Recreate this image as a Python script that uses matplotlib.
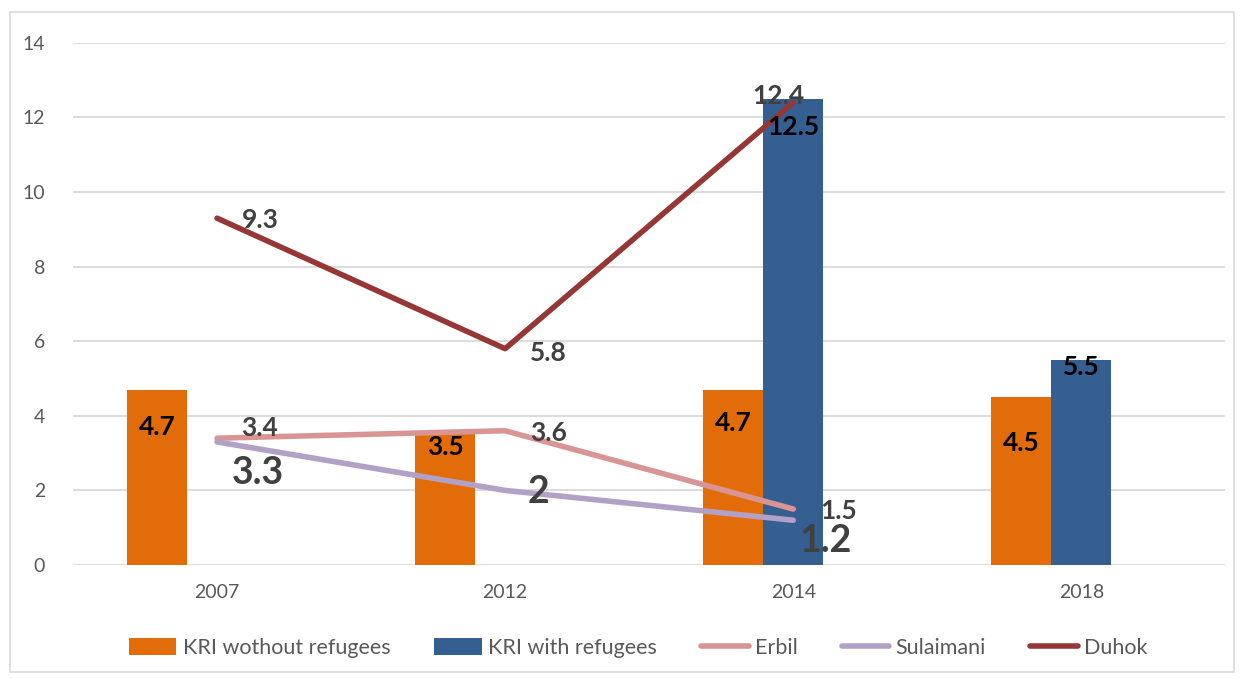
import numpy as np
import matplotlib
matplotlib.use("Agg")
import matplotlib.pyplot as plt
from matplotlib.patches import Rectangle

plt.rcParams['font.family'] = ['Lato', 'DejaVu Sans']

years = ['2007', '2012', '2014', '2018']
kri_without = [4.7, 3.5, 4.7, 4.5]
kri_with = [np.nan, np.nan, 12.5, 5.5]
erbil = [3.4, 3.6, 1.5]
sulaimani = [3.3, 2.0, 1.2]
duhok = [9.3, 5.8, 12.4]

c_orange = '#E36C0A'
c_blue = '#365F91'
c_erbil = '#D99594'
c_sul = '#B2A1C7'
c_duhok = '#953735'
txt = '#404040'

fig = plt.figure(figsize=(12.44, 6.78), dpi=100)
ax = fig.add_axes([0.0587, 0.1667, 0.9263, 0.77])

x = np.arange(len(years))
w = 60 / 288.0
b1 = ax.bar(x - w, kri_without, w, color=c_orange, label='KRI wothout refugees', zorder=2)
b2 = ax.bar(x, kri_with, w, color=c_blue, label='KRI with refugees', zorder=2)

xl = x[:3]
l1, = ax.plot(xl, erbil, color=c_erbil, lw=4, label='Erbil', zorder=3, solid_capstyle='round')
l2, = ax.plot(xl, sulaimani, color=c_sul, lw=4, label='Sulaimani', zorder=3, solid_capstyle='round')
l3, = ax.plot(xl, duhok, color=c_duhok, lw=4, label='Duhok', zorder=3, solid_capstyle='round')

# bar labels (inside end), offsets in pixels
orange_off = [-37, -13, -33, -46]
for xi, v, dy in zip(x - w, kri_without, orange_off):
    ax.annotate('%g' % v, (xi, v), xytext=(0, dy), textcoords='offset pixels',
                ha='center', va='center', fontsize=19, fontweight='bold', color='black', zorder=5)
blue_off = [0, 0, -28, -7]
for xi, v, dy in zip(x, kri_with, blue_off):
    if not np.isnan(v):
        ax.annotate('%g' % v, (xi, v), xytext=(0, dy), textcoords='offset pixels',
                    ha='center', va='center', fontsize=19, fontweight='bold', color='black', zorder=5)

# line labels
duhok_off = [(43, -2), (43, -4), (-15, 7)]
for xi, v, off in zip(xl, duhok, duhok_off):
    ax.annotate('%g' % v, (xi, v), xytext=off, textcoords='offset pixels',
                ha='center', va='center', fontsize=19, fontweight='bold', color=txt, zorder=5)
erbil_off = [(42, 10), (43, -2), (45, -2)]
for xi, v, off in zip(xl, erbil, erbil_off):
    ax.annotate('%g' % v, (xi, v), xytext=off, textcoords='offset pixels',
                ha='center', va='center', fontsize=19, fontweight='bold', color=txt, zorder=5)
sul_off = [(41, -31), (33, -2), (33, -21)]
for xi, v, off in zip(xl, sulaimani, sul_off):
    ax.annotate('%g' % v, (xi, v), xytext=off, textcoords='offset pixels',
                ha='center', va='center', fontsize=27, fontweight='bold', color=txt, zorder=5)

ax.set_xlim(-0.5, 3.5)
ax.set_ylim(0, 14)
ax.set_yticks(range(0, 15, 2))
ax.set_xticks(x)
ax.set_xticklabels(years)
ax.tick_params(length=0, labelsize=14, labelcolor='#595959')
ax.tick_params(axis='x', pad=14)
ax.tick_params(axis='y', pad=20)
ax.grid(axis='y', color='#D9D9D9', lw=1.3, zorder=0)
ax.set_axisbelow(True)
for s in ax.spines.values():
    s.set_visible(False)

leg = fig.legend([b1, b2, l1, l2, l3],
                 ['KRI wothout refugees', 'KRI with refugees', 'Erbil', 'Sulaimani', 'Duhok'],
                 loc='center', bbox_to_anchor=(0.513, 0.044), ncol=5, frameon=False,
                 fontsize=15.5, handlelength=2.2, handleheight=0.8, columnspacing=2.05,
                 handletextpad=0.3, labelcolor='#595959')

fig.patches.append(Rectangle((10 / 1244, 6 / 678), 1224 / 1244, 660 / 678,
                             transform=fig.transFigure, fill=False,
                             edgecolor='#D9D9D9', lw=1.2))

fig.savefig('out.png', dpi=100)
